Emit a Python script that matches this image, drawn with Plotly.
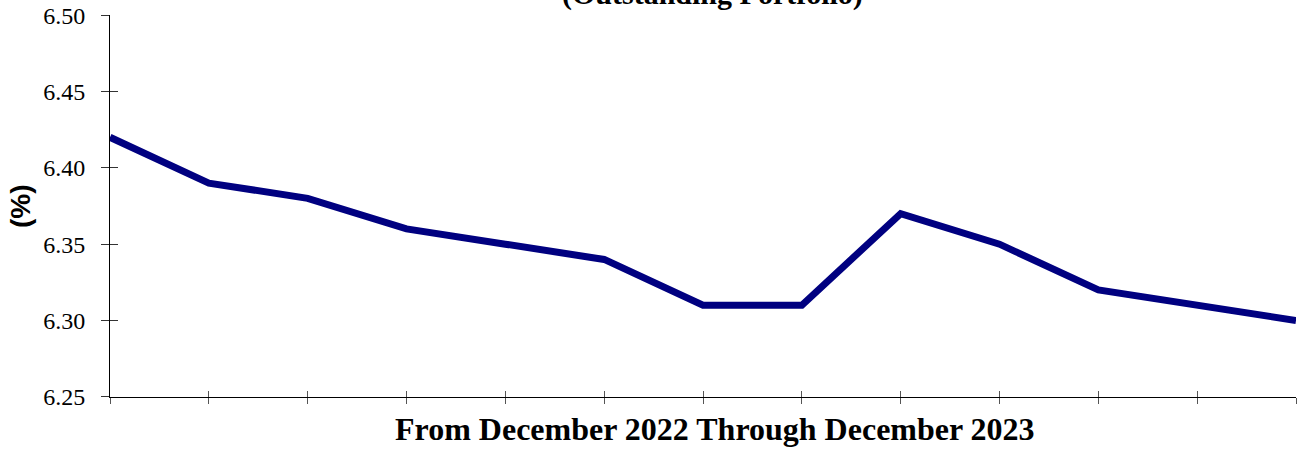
import plotly.graph_objects as go

months = ["Dec 2022", "Jan 2023", "Feb 2023", "Mar 2023", "Apr 2023", "May 2023",
          "Jun 2023", "Jul 2023", "Aug 2023", "Sep 2023", "Oct 2023", "Nov 2023", "Dec 2023"]
rates = [6.42, 6.39, 6.38, 6.36, 6.35, 6.34, 6.31, 6.31, 6.37, 6.35, 6.32, 6.31, 6.30]
y_ticks = [6.25, 6.30, 6.35, 6.40, 6.45, 6.50]
y_tick_labels = ["6.25", "6.30", "6.35", "6.40", "6.45", "6.50"]

W, H = 1298, 450
L, R, T, B = 110, 2, 15, 53
pw, ph = W - L - R, H - T - B
y_range = [6.2499, 6.5001]

fig = go.Figure()
fig.add_trace(go.Scatter(x=months, y=rates, mode="lines",
                         line=dict(color="#000080", width=7), hoverinfo="x+y",
                         showlegend=False))
# invisible trace for overlay axes (inner half of crossing ticks)
fig.add_trace(go.Scatter(x=months, y=rates, mode="lines", xaxis="x2", yaxis="y2",
                         line=dict(color="rgba(0,0,0,0)", width=0), hoverinfo="skip",
                         showlegend=False))

serif = "Liberation Serif, Times New Roman, serif"
axis_font = dict(family=serif, size=24, color="black")

fig.update_layout(
    width=W, height=H,
    margin=dict(l=L, r=R, t=T, b=B),
    paper_bgcolor="white", plot_bgcolor="white",
    xaxis=dict(type="category", range=[0, 12], showgrid=False, zeroline=False,
               showline=True, linecolor="black", linewidth=1,
               ticks="outside", ticklen=6, tickcolor="#555555", tickwidth=1,
               showticklabels=False, fixedrange=True),
    yaxis=dict(range=y_range, tickvals=y_ticks, ticktext=y_tick_labels,
               showgrid=False, zeroline=False, showline=True, linecolor="black", linewidth=1,
               ticks="outside", ticklen=8, tickcolor="#333333", tickwidth=1,
               tickfont=axis_font, ticklabelstandoff=11, fixedrange=True),
    xaxis2=dict(type="category", range=[0, 12], overlaying="x", side="bottom",
                showgrid=False, zeroline=False, showline=False,
                ticks="inside", ticklen=6, tickcolor="#555555", tickwidth=1,
                showticklabels=False, fixedrange=True),
    yaxis2=dict(range=y_range, tickvals=y_ticks, overlaying="y", side="left",
                showgrid=False, zeroline=False, showline=False,
                ticks="inside", ticklen=8, tickcolor="#333333", tickwidth=1,
                showticklabels=False, fixedrange=True),
    annotations=[
        dict(text="<b>(Outstanding Portfolio)</b>", xref="paper", yref="paper",
             x=(712 - L) / pw, y=1 + 21 / ph, xanchor="center", yanchor="middle",
             showarrow=False,
             font=dict(family=serif, size=30, color="black")),
        dict(text="<b>From December 2022 Through December 2023</b>", xref="paper", yref="paper",
             x=(715 - L) / pw, y=1 - (429.5 - T) / ph, xanchor="center", yanchor="middle",
             showarrow=False,
             font=dict(family=serif, size=32, color="black")),
        dict(text="<b>(%)</b>", xref="paper", yref="paper",
             x=(20 - L) / pw, y=0.5, xanchor="center", yanchor="middle", textangle=-90,
             showarrow=False,
             font=dict(family="Liberation Sans, Arial, sans-serif", size=28, color="black")),
    ],
)

fig.write_html("out.html", config={"displayModeBar": False},
               post_script="document.body.style.margin='0px';")
